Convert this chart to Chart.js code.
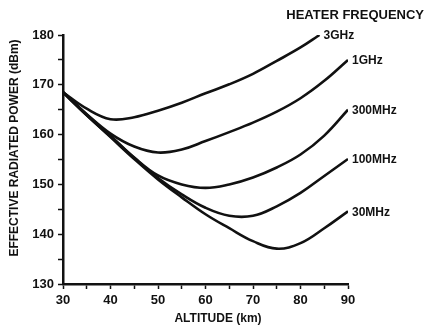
<!DOCTYPE html>
<html>
<head>
<meta charset="utf-8">
<script src="https://cdn.jsdelivr.net/npm/chart.js@4.4.1/dist/chart.umd.min.js"></script>
<style>
  html, body { margin: 0; padding: 0; background: #fff; }
  #wrap { width: 426px; height: 331px; }
</style>
</head>
<body>
<div id="wrap"><canvas id="erp" width="426" height="331"></canvas></div>
<script>
// altitudes (km)
const altitudeKm = [30, 35, 40, 45, 50, 55, 60, 65, 70, 75, 80, 85, 90];
const altitude3GHz = [30, 35, 40, 45, 50, 55, 60, 65, 70, 75, 80, 84];

// effective radiated power (dBm) per heater frequency
const erp3GHz = [168.5, 165.2, 163.1, 163.5, 164.8, 166.4, 168.3, 170.1, 172.2, 174.8, 177.5, 180.0];
const erp1GHz = [168.5, 164.1, 160.2, 157.6, 156.4, 157.0, 158.7, 160.5, 162.4, 164.6, 167.3, 170.8, 175.0];
const erp300MHz = [168.5, 164.0, 159.8, 155.4, 151.8, 150.0, 149.3, 150.0, 151.4, 153.4, 156.0, 159.8, 165.0];
const erp100MHz = [168.5, 163.9, 159.6, 155.3, 151.3, 148.0, 145.3, 143.7, 143.7, 145.6, 148.3, 151.7, 155.1];
const erp30MHz = [168.5, 163.9, 159.5, 155.1, 151.0, 147.4, 144.0, 141.2, 138.6, 137.1, 138.2, 141.2, 144.6];

const seriesNames = ["3GHz", "1GHz", "300MHz", "100MHz", "30MHz"];

const toPoints = (xs, ys) => xs.map((x, i) => ({ x, y: ys[i] }));

const ink = "#111";
const fontFamily = "'Liberation Sans', Arial, sans-serif";

const seriesData = [
  toPoints(altitude3GHz, erp3GHz),
  toPoints(altitudeKm, erp1GHz),
  toPoints(altitudeKm, erp300MHz),
  toPoints(altitudeKm, erp100MHz),
  toPoints(altitudeKm, erp30MHz),
];

// text drawn by hand: curve labels, legend heading, axis titles
const annotations = {
  id: "annotations",
  afterDatasetsDraw(chart) {
    const ctx = chart.ctx;
    ctx.save();
    ctx.fillStyle = ink;
    ctx.font = "bold 12px " + fontFamily;
    ctx.textBaseline = "middle";
    ctx.textAlign = "left";
    chart.data.datasets.forEach((ds, i) => {
      const meta = chart.getDatasetMeta(i);
      const last = meta.data[meta.data.length - 1];
      ctx.fillText(ds.label, last.x + 4, last.y + 1);
    });

    ctx.font = "bold 13px " + fontFamily;
    ctx.textAlign = "right";
    ctx.fillText("HEATER FREQUENCY", 424, 15);

    ctx.font = "bold 12px " + fontFamily;
    ctx.textAlign = "center";
    ctx.fillText("ALTITUDE (km)", 218, 319);

    ctx.translate(15, 148);
    ctx.rotate(-Math.PI / 2);
    ctx.fillText("EFFECTIVE RADIATED POWER (dBm)", 0, 0);
    ctx.restore();
  },
};

new Chart(document.getElementById("erp").getContext("2d"), {
  type: "line",
  data: {
    datasets: seriesData.map((pts, i) => ({
      label: seriesNames[i],
      data: pts,
      borderColor: ink,
      borderWidth: 2.6,
      pointRadius: 0,
      tension: 0.4,
      fill: false,
    })),
  },
  options: {
    responsive: false,
    animation: false,
    layout: { padding: { left: 0, top: 35, right: 78, bottom: 0 } },
    plugins: {
      legend: { display: false },
      tooltip: { enabled: false },
    },
    scales: {
      x: {
        type: "linear",
        min: 30,
        max: 90,
        afterFit: (s) => { s.height = 47; },
        ticks: {
          stepSize: 5,
          color: ink,
          padding: 4,
          maxRotation: 0,
          font: { family: fontFamily, size: 13, weight: "bold" },
          callback: (v) => (v % 10 === 0 ? v : ""),
        },
        grid: { drawOnChartArea: false, tickLength: 5, color: ink, tickWidth: 1.5 },
        border: { display: true, color: ink, width: 2.5 },
      },
      y: {
        min: 130,
        max: 180,
        afterFit: (s) => { s.width = 63; },
        ticks: {
          stepSize: 5,
          color: ink,
          padding: 4,
          font: { family: fontFamily, size: 13, weight: "bold" },
          callback: (v) => (v % 10 === 0 ? v : ""),
        },
        grid: { drawOnChartArea: false, tickLength: 5, color: ink, tickWidth: 1.5 },
        border: { display: true, color: ink, width: 2.5 },
      },
    },
  },
  plugins: [annotations],
});
</script>
</body>
</html>
